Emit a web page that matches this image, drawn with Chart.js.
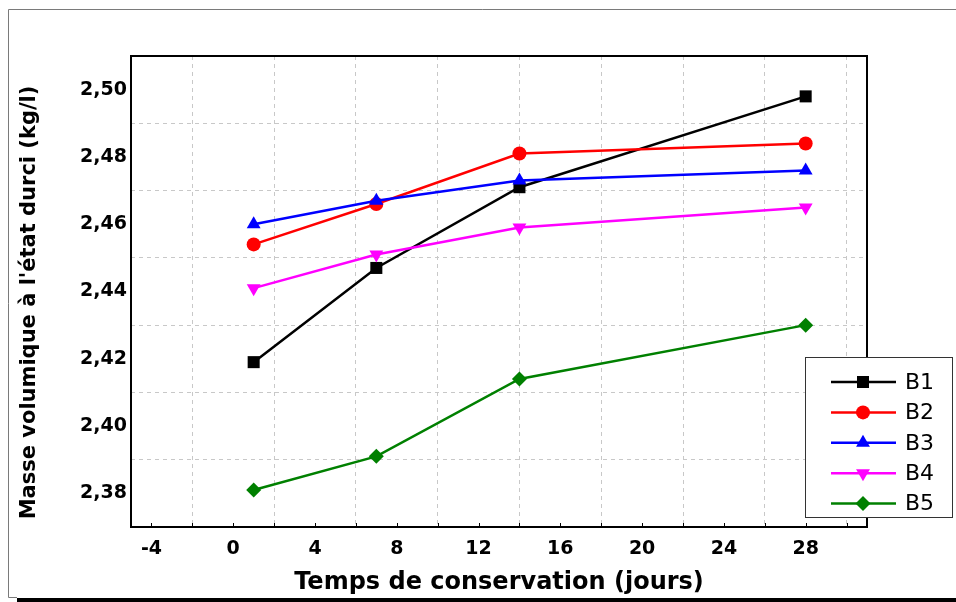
<!DOCTYPE html>
<html>
<head>
<meta charset="utf-8">
<script src="https://cdn.jsdelivr.net/npm/chart.js@4/dist/chart.umd.min.js"></script>
<style>
  body { margin: 0; background: #fff; }
  #wrap { width: 956px; height: 602px; }
</style>
</head>
<body>
<div id="wrap"><canvas id="densityChart" width="956" height="602"></canvas></div>
<script>
// data -------------------------------------------------------------------
var days = [1, 7, 14, 28];
var b1 = [2.419, 2.447, 2.471, 2.498];
var b2 = [2.454, 2.466, 2.481, 2.484];
var b3 = [2.460, 2.467, 2.473, 2.476];
var b4 = [2.441, 2.451, 2.459, 2.465];
var b5 = [2.381, 2.391, 2.414, 2.430];
var seriesNames = ['B1', 'B2', 'B3', 'B4', 'B5'];

// ticks: labelled every 4 days / 0.02, dashed grid in between
var xTicks = [-4, -2, 0, 2, 4, 6, 8, 10, 12, 14, 16, 18, 20, 22, 24, 26, 28, 30];
var yTicks = [2.38, 2.39, 2.40, 2.41, 2.42, 2.43, 2.44, 2.45, 2.46, 2.47, 2.48, 2.49, 2.50];

var xTitle = 'Temps de conservation (jours)';
// trailing nbsp nudges the rotated title down a little, like the original
var yTitle = "Masse volumique à l'état durci (kg/l)\u00a0\u00a0\u00a0";

var FONT = "'DejaVu Sans', sans-serif";
var GRID = '#c8c8c8';

function pts(vals) {
    return days.map(function (d, i) { return { x: d, y: vals[i] }; });
}

function isMinorX(v) { return ((v % 4) + 4) % 4 === 2; }
function isMinorY(v) { return Math.round(v * 100) % 2 === 1; }

var styles = [
    { color: '#000000', point: 'rect', radius: 8.5, rotation: 0 },
    { color: '#ff0000', point: 'circle', radius: 7, rotation: 0 },
    { color: '#0000ff', point: 'triangle', radius: 8, rotation: 0 },
    { color: '#ff00ff', point: 'triangle', radius: 8, rotation: 180 },
    { color: '#008000', point: 'rectRot', radius: 7.5, rotation: 0 }
];
var series = [b1, b2, b3, b4, b5];

var datasets = series.map(function (vals, i) {
    var s = styles[i];
    return {
        label: seriesNames[i],
        data: pts(vals),
        borderColor: s.color,
        backgroundColor: s.color,
        borderWidth: 2.5,
        pointStyle: s.point,
        pointRadius: s.radius,
        pointRotation: s.rotation,
        pointBorderWidth: 0,
        pointBackgroundColor: s.color,
        order: 5 - i,
        tension: 0
    };
});

// frame, inside ticks, outer border, legend box
var decorations = {
    id: 'decorations',
    beforeDraw: function (chart) {
        var ctx = chart.ctx;
        ctx.save();
        ctx.fillStyle = '#fff';
        ctx.fillRect(0, 0, chart.width, chart.height);
        ctx.strokeStyle = '#7a7a7a';
        ctx.lineWidth = 1;
        ctx.beginPath();
        ctx.moveTo(956, 9.5); ctx.lineTo(8.5, 9.5); ctx.lineTo(8.5, 597.5); ctx.lineTo(17, 597.5);
        ctx.stroke();
        ctx.fillStyle = '#000';
        ctx.fillRect(17, 598, 939, 4);
        ctx.restore();
    },
    afterDraw: function (chart) {
        var ctx = chart.ctx;
        var a = chart.chartArea;
        var xs = chart.scales.x;
        ctx.save();
        // small inward ticks on the bottom axis
        ctx.strokeStyle = '#000';
        ctx.lineWidth = 1;
        xTicks.forEach(function (v) {
            var px = Math.round(xs.getPixelForValue(v)) + 0.5;
            ctx.beginPath();
            ctx.moveTo(px, a.bottom);
            ctx.lineTo(px, a.bottom - 4);
            ctx.stroke();
        });
        // plot frame
        ctx.lineWidth = 2;
        ctx.strokeRect(a.left, a.top, a.right - a.left, a.bottom - a.top);

        // legend
        var bx = 805, by = 357, bw = 147, bh = 160;
        ctx.fillStyle = '#fff';
        ctx.fillRect(bx, by, bw, bh);
        ctx.lineWidth = 1;
        ctx.strokeStyle = '#333';
        ctx.strokeRect(bx + 0.5, by + 0.5, bw, bh);
        ctx.font = '22px ' + FONT;
        ctx.textBaseline = 'middle';
        ctx.textAlign = 'left';
        chart.data.datasets.forEach(function (ds, i) {
            var y = by + 25 + i * 30.4;
            ctx.strokeStyle = ds.borderColor;
            ctx.lineWidth = 2.5;
            ctx.beginPath();
            ctx.moveTo(831, y);
            ctx.lineTo(896, y);
            ctx.stroke();
            ctx.fillStyle = ds.borderColor;
            Chart.helpers.drawPoint(ctx, {
                pointStyle: ds.pointStyle,
                rotation: ds.pointRotation,
                radius: ds.pointRadius,
                borderWidth: 0
            }, 863, y);
            ctx.fillStyle = '#000';
            ctx.fillText(ds.label, 905, y + 1);
        });
        ctx.restore();
    }
};

var densityChart = new Chart(document.getElementById('densityChart'), {
    type: 'line',
    data: { datasets: datasets },
    options: {
        responsive: false,
        animation: false,
        layout: { padding: { top: 56, right: 89, left: 0, bottom: 0 } },
        plugins: {
            legend: { display: false },
            tooltip: { enabled: false }
        },
        scales: {
            x: {
                type: 'linear',
                min: -5,
                max: 31,
                afterBuildTicks: function (scale) {
                    scale.ticks = xTicks.map(function (v) { return { value: v }; });
                },
                afterFit: function (scale) { scale.height = 75; },
                grid: {
                    drawTicks: false,
                    lineWidth: 1,
                    color: function (c) { return c.tick && isMinorX(c.tick.value) ? GRID : 'rgba(0,0,0,0)'; }
                },
                border: { display: false, dash: [4, 4] },
                ticks: {
                    padding: 11,
                    color: '#000',
                    maxRotation: 0,
                    autoSkip: false,
                    font: { family: FONT, size: 19, weight: 'bold' },
                    callback: function (v) { return isMinorX(v) ? '' : String(v); }
                },
                title: {
                    display: true,
                    text: xTitle,
                    color: '#000',
                    padding: { top: 0, bottom: 5 },
                    font: { family: FONT, size: 24, weight: 'bold' }
                }
            },
            y: {
                type: 'linear',
                min: 2.37,
                max: 2.51,
                afterBuildTicks: function (scale) {
                    scale.ticks = yTicks.map(function (v) { return { value: v }; });
                },
                afterFit: function (scale) { scale.width = 131; },
                grid: {
                    drawTicks: false,
                    lineWidth: 1,
                    color: function (c) { return c.tick && isMinorY(c.tick.value) ? GRID : 'rgba(0,0,0,0)'; }
                },
                border: { display: false, dash: [4, 4] },
                ticks: {
                    padding: 4,
                    color: '#000',
                    autoSkip: false,
                    font: { family: FONT, size: 19, weight: 'bold' },
                    callback: function (v) { return isMinorY(v) ? '' : v.toFixed(2).replace('.', ','); }
                },
                title: {
                    display: true,
                    text: yTitle,
                    color: '#000',
                    padding: { top: 17, bottom: 0 },
                    font: { family: FONT, size: 21, weight: 'bold' }
                }
            }
        }
    },
    plugins: [decorations]
});
</script>
</body>
</html>
